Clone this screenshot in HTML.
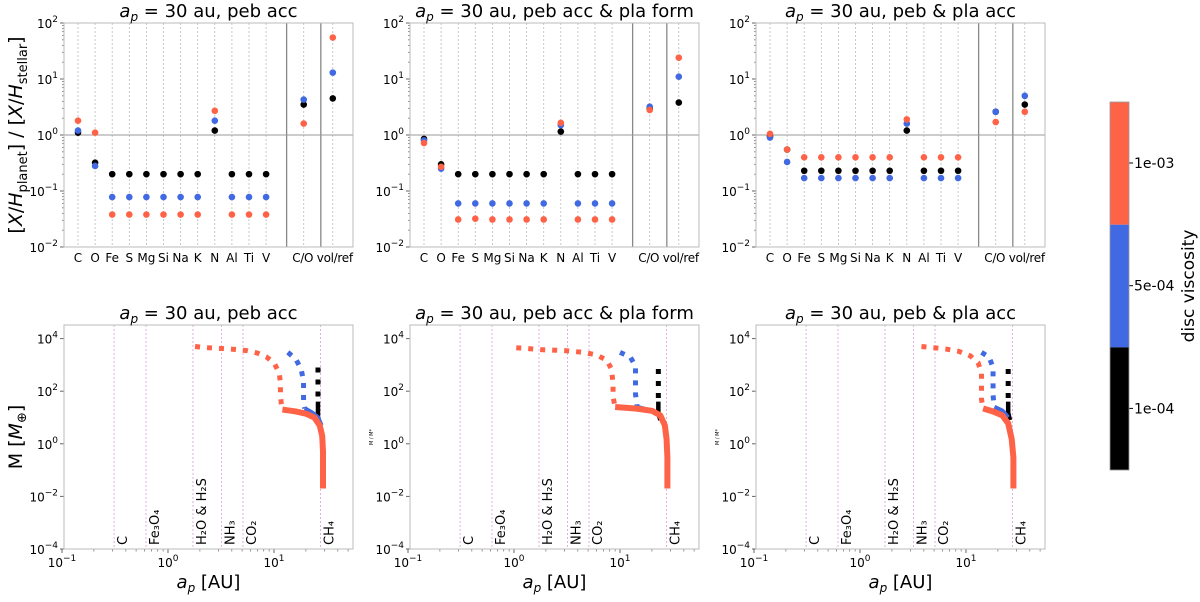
<!DOCTYPE html>
<html><head><meta charset="utf-8"><style>
body{margin:0;background:#fff;width:1200px;height:597px;overflow:hidden;font-family:"Liberation Sans","DejaVu Sans",sans-serif}
svg text{font-family:"DejaVu Sans","Liberation Sans",sans-serif}
</style></head><body>
<svg id="fig" width="1200" height="597" xmlns="http://www.w3.org/2000/svg"></svg>
<script>
const cats=["C","O","Fe","S","Mg","Si","Na","K","N","Al","Ti","V","C/O","vol/ref"];
const catIdx=[0,1,2,3,4,5,6,7,8,9,10,11,13.2,14.9];
const titles=["peb acc","peb acc & pla form","peb & pla acc"];
const colors={red:"#ff6347",blue:"#4169e1",black:"#000"};
// top-row abundance values [panel][series]
const p1Black=[1.1,0.32,0.2,0.2,0.2,0.2,0.2,0.2,1.2,0.2,0.2,0.2,3.5,4.5];
const p1Blue=[1.2,0.28,0.078,0.078,0.078,0.078,0.078,0.078,1.8,0.078,0.078,0.078,4.3,13];
const p1Red=[1.8,1.1,0.038,0.038,0.038,0.038,0.038,0.038,2.7,0.038,0.038,0.038,1.6,55];
const p2Black=[0.85,0.3,0.2,0.2,0.2,0.2,0.2,0.2,1.15,0.2,0.2,0.2,3.0,3.8];
const p2Blue=[0.8,0.25,0.06,0.06,0.06,0.06,0.06,0.06,1.5,0.06,0.06,0.06,3.2,11];
const p2Red=[0.72,0.27,0.031,0.032,0.031,0.031,0.031,0.031,1.65,0.031,0.031,0.031,2.8,24];
const p3Black=[0.95,0.55,0.23,0.23,0.23,0.23,0.23,0.23,1.2,0.23,0.23,0.23,2.6,3.5];
const p3Blue=[0.9,0.33,0.17,0.17,0.17,0.17,0.17,0.17,1.6,0.17,0.17,0.17,2.6,5];
const p3Red=[1.05,0.55,0.4,0.4,0.4,0.4,0.4,0.4,1.9,0.4,0.4,0.4,1.7,2.6];
// bottom-row growth tracks: a [AU], M [M_earth]
const p1RedDotA=[1.8,2.4,3.2,4.2,5.5,7,8.5,10,11.2,11.5,11.5,11.7,12];
const p1RedDotM=[5000,4500,4200,3900,3500,2800,2000,1200,500,200,80,35,20];
const p1RedA=[12,16,20,24,27,28.5,29,29,29];
const p1RedM=[20,17,14,10,5,2,0.5,0.1,0.02];
const p1BlueDotA=[13.5,16,18,19,19,19,19.5];
const p1BlueDotM=[3000,1700,700,250,90,35,22];
const p1BlueA=[19.5,23,26,28];const p1BlueM=[22,15,10,5];
const p1BlackDotA=[26,26];const p1BlackDotM=[800,45];
const p1BlackA=[26,26,27];const p1BlackM=[40,10,5];
const p2RedDotA=[1.05,1.8,3,4.5,6,7.5,8.3,8.6,8.6,9];
const p2RedDotM=[4500,3800,3500,3000,2400,1500,700,200,60,25];
const p2RedA=[9,14,20,24,26.5,27.5,28,28];
const p2RedM=[25,22,18,12,5,1.5,0.3,0.02];
const p2BlueDotA=[10,12.5,14,14,14,14.5];
const p2BlueDotM=[3000,2000,900,250,80,25];
const p2BlueA=[14.5,20,24];const p2BlueM=[25,18,12];
const p2BlackDotA=[23,23];const p2BlackDotM=[700,45];
const p2BlackA=[23,23,24];const p2BlackM=[40,15,8];
const p3RedDotA=[3.8,5,6.5,8.5,11,13,14,14,14,14.5];
const p3RedDotM=[5000,4500,4000,3300,2200,1200,500,150,50,22];
const p3RedA=[14.5,18,22,25,27,28,28];
const p3RedM=[22,17,12,6,1.5,0.3,0.02];
const p3BlueDotA=[14,16.5,18,18,18,18.5];
const p3BlueDotM=[3000,2000,800,250,70,25];
const p3BlueA=[18.5,22,25];const p3BlueM=[25,18,10];
const p3BlackDotA=[25,25];const p3BlackDotM=[700,45];
const p3BlackA=[25,25,26];const p3BlackM=[40,15,8];
const snowNames=["C","Fe₃O₄","H₂O &amp; H₂S","NH₃","CO₂","CH₄"];
const snowA=[0.31,0.62,1.72,3.2,5.1,27.5];

const NS="http://www.w3.org/2000/svg";
const svg=document.getElementById('fig');
function el(t,a,p){const e=document.createElementNS(NS,t);for(const k in a)e.setAttribute(k,a[k]);(p||svg).appendChild(e);return e;}
function txt(x,y,s,a,p){const e=el('text',Object.assign({x:x,y:y,'font-size':12,fill:'#000'},a),p);e.innerHTML=s;return e;}
function sup(b,e){return b+'<tspan dy="-6" font-size="9">'+e+'</tspan>';}
const lefts=[64,410,756],W=289;
const topSets=[[p1Black,p1Blue,p1Red],[p2Black,p2Blue,p2Red],[p3Black,p3Blue,p3Red]];
const botSets=[
 [[p1RedDotA,p1RedDotM,p1RedA,p1RedM],[p1BlueDotA,p1BlueDotM,p1BlueA,p1BlueM],[p1BlackDotA,p1BlackDotM,p1BlackA,p1BlackM]],
 [[p2RedDotA,p2RedDotM,p2RedA,p2RedM],[p2BlueDotA,p2BlueDotM,p2BlueA,p2BlueM],[p2BlackDotA,p2BlackDotM,p2BlackA,p2BlackM]],
 [[p3RedDotA,p3RedDotM,p3RedA,p3RedM],[p3BlueDotA,p3BlueDotM,p3BlueA,p3BlueM],[p3BlackDotA,p3BlackDotM,p3BlackA,p3BlackM]]];
const serCol=[colors.black,colors.blue,colors.red];
const botCol=[colors.red,colors.blue,colors.black];

lefts.forEach((L,pi)=>{
 const T=23,B=247;
 const g=el('g',{},svg);
 
 
 const ys=v=>T+(2-Math.log10(v))*(B-T)/4;
 const xs=i=>L+14+i*17.1;
 catIdx.forEach(i=>el('line',{x1:xs(i),x2:xs(i),y1:T,y2:B,stroke:'#bbb','stroke-width':0.8,'stroke-dasharray':'2,2'},g));
 [12.2,14.2].forEach(i=>el('line',{x1:xs(i),x2:xs(i),y1:T,y2:B,stroke:'#888','stroke-width':1.3},g));
 el('line',{x1:L,x2:L+W,y1:ys(1),y2:ys(1),stroke:'#999','stroke-width':1},g);
 for(let d=-2;d<2;d++)for(let k=2;k<10;k++){const y=ys(k*Math.pow(10,d));el('line',{x1:L,x2:L-2,y1:y,y2:y,stroke:'#666','stroke-width':0.7},g);}
 for(let d=-2;d<=2;d++){const y=ys(Math.pow(10,d));el('line',{x1:L,x2:L-4,y1:y,y2:y,stroke:'#666'},g);
  txt(L-6,y+5,sup('10',d<0?'−'+(-d):d),{'text-anchor':'end','font-size':12},g);}
 cats.forEach((c,j)=>txt(xs(catIdx[j])+(j==13?2:(j==12?-1:0)),262,c,{'text-anchor':'middle','font-size':12,'letter-spacing':j>=12?'-0.3':'0'},g));
 el('rect',{x:L,y:T,width:W,height:B-T,fill:'none',stroke:'#bbb','stroke-width':1},g);
 topSets[pi].forEach((arr,si)=>arr.forEach((v,j)=>{
  const c=el('circle',{cx:xs(catIdx[j]),cy:ys(v),r:3.3,fill:serCol[si]},g);
  
  
 }));
 const t1=txt(L+W/2,17,'<tspan font-style="italic">a</tspan><tspan font-style="italic" font-size="12" dy="4">p</tspan><tspan dy="-4"> = 30 au, '+titles[pi]+'</tspan>',{'text-anchor':'middle','font-size':18},g);
 
 

 const BT=325,BB=549;
 const h=el('g',{},svg);
 
 
 const xa=a=>L-2+(Math.log10(a)+1)*106;
 const ym=m=>BB-(Math.log10(m)+4)*26.3;
 snowA.forEach((a,j)=>{el('line',{x1:xa(a),x2:xa(a),y1:BT,y2:BB,stroke:'#dd99dd','stroke-width':0.8,'stroke-dasharray':'2,2'},h);
  const t=txt(0,0,snowNames[j],{'font-size':13,transform:'translate('+(xa(a)+13)+','+(BB-4)+') rotate(-90)'},h);
  
  });
 for(let d=-1;d<2;d++)for(let k=2;k<10;k++){const x=xa(k*Math.pow(10,d));if(x<L+W)el('line',{x1:x,x2:x,y1:BB,y2:BB+2.5,stroke:'#666','stroke-width':0.7},h);}
 for(let d=-1;d<=1;d++){const x=xa(Math.pow(10,d));el('line',{x1:x,x2:x,y1:BB,y2:BB+4,stroke:'#666'},h);
  txt(x,BB+18,sup('10',d<0?'−'+(-d):d),{'text-anchor':'middle','font-size':12},h);}
 for(let d=-4;d<=4;d+=2){const y=ym(Math.pow(10,d));el('line',{x1:L,x2:L-4,y1:y,y2:y,stroke:'#666'},h);
  txt(L-6,y+5,sup('10',d<0?'−'+(-d):d),{'text-anchor':'end','font-size':12},h);}
 el('rect',{x:L,y:BT,width:W,height:BB-BT,fill:'none',stroke:'#bbb','stroke-width':1},h);
 botSets[pi].forEach((s,si)=>{
  const pd=s[0].map((a,k)=>xa(a)+','+ym(s[1][k])).join(' ');
  const d1=el('polyline',{points:pd,fill:'none',stroke:botCol[si],'stroke-width':5,'stroke-dasharray':'5,7'},h);
  
  
 });
 [2,1,0].forEach(si=>{const s=botSets[pi][si];
  const ps=s[2].map((a,k)=>xa(a)+','+ym(s[3][k])).join(' ');
  const d2=el('polyline',{points:ps,fill:'none',stroke:botCol[si],'stroke-width':si==0?6:4.5,'stroke-linejoin':'round'},h);
  
  
 });
 const t2=txt(L+W/2,319,'<tspan font-style="italic">a</tspan><tspan font-style="italic" font-size="12" dy="4">p</tspan><tspan dy="-4"> = 30 au, '+titles[pi]+'</tspan>',{'text-anchor':'middle','font-size':18},h);
 
 
 const xl=txt(L+W/2,588,'<tspan font-style="italic">a</tspan><tspan font-style="italic" font-size="12" dy="4">p</tspan><tspan dy="-4"> [AU]</tspan>',{'text-anchor':'middle','font-size':18},h);
 
 
 if(pi>0){const s=txt(0,0,'M / M*',{'font-size':5,'text-anchor':'middle',transform:'translate('+(L-37)+',437) rotate(-90)'},h);
  
  }
});
const ya=txt(0,0,'[<tspan font-style="italic">X</tspan>/<tspan font-style="italic">H</tspan><tspan font-size="13" dy="5">planet</tspan><tspan dy="-5">] / [</tspan><tspan font-style="italic">X</tspan>/<tspan font-style="italic">H</tspan><tspan font-size="13" dy="5">stellar</tspan><tspan dy="-5">]</tspan>',{'font-size':19,'text-anchor':'middle',transform:'translate(22,135) rotate(-90)'});


const yb=txt(0,0,'M [<tspan font-style="italic">M</tspan><tspan font-size="13" dy="4">⊕</tspan><tspan dy="-4">]</tspan>',{'font-size':19,'text-anchor':'middle',transform:'translate(22,437) rotate(-90)'});


const cb=el('g',{});


const cbCols=[colors.red,colors.blue,colors.black];
const cbLab=["1e-03","5e-04","1e-04"];
cbCols.forEach((c,i)=>{el('rect',{x:1110,y:102+i*122.7,width:19,height:122.7,fill:c},cb);
 const y=102+i*122.7+61;el('line',{x1:1129,x2:1133,y1:y,y2:y,stroke:'#000'},cb);
 txt(1134,y+5,cbLab[i],{'font-size':14},cb);});
el('rect',{x:1110,y:102,width:19,height:368,fill:'none',stroke:'#999','stroke-width':0.8},cb);
txt(0,0,'disc viscosity',{'font-size':17,'text-anchor':'middle',transform:'translate(1194,286) rotate(-90)'},cb);
</script>
</body></html>
